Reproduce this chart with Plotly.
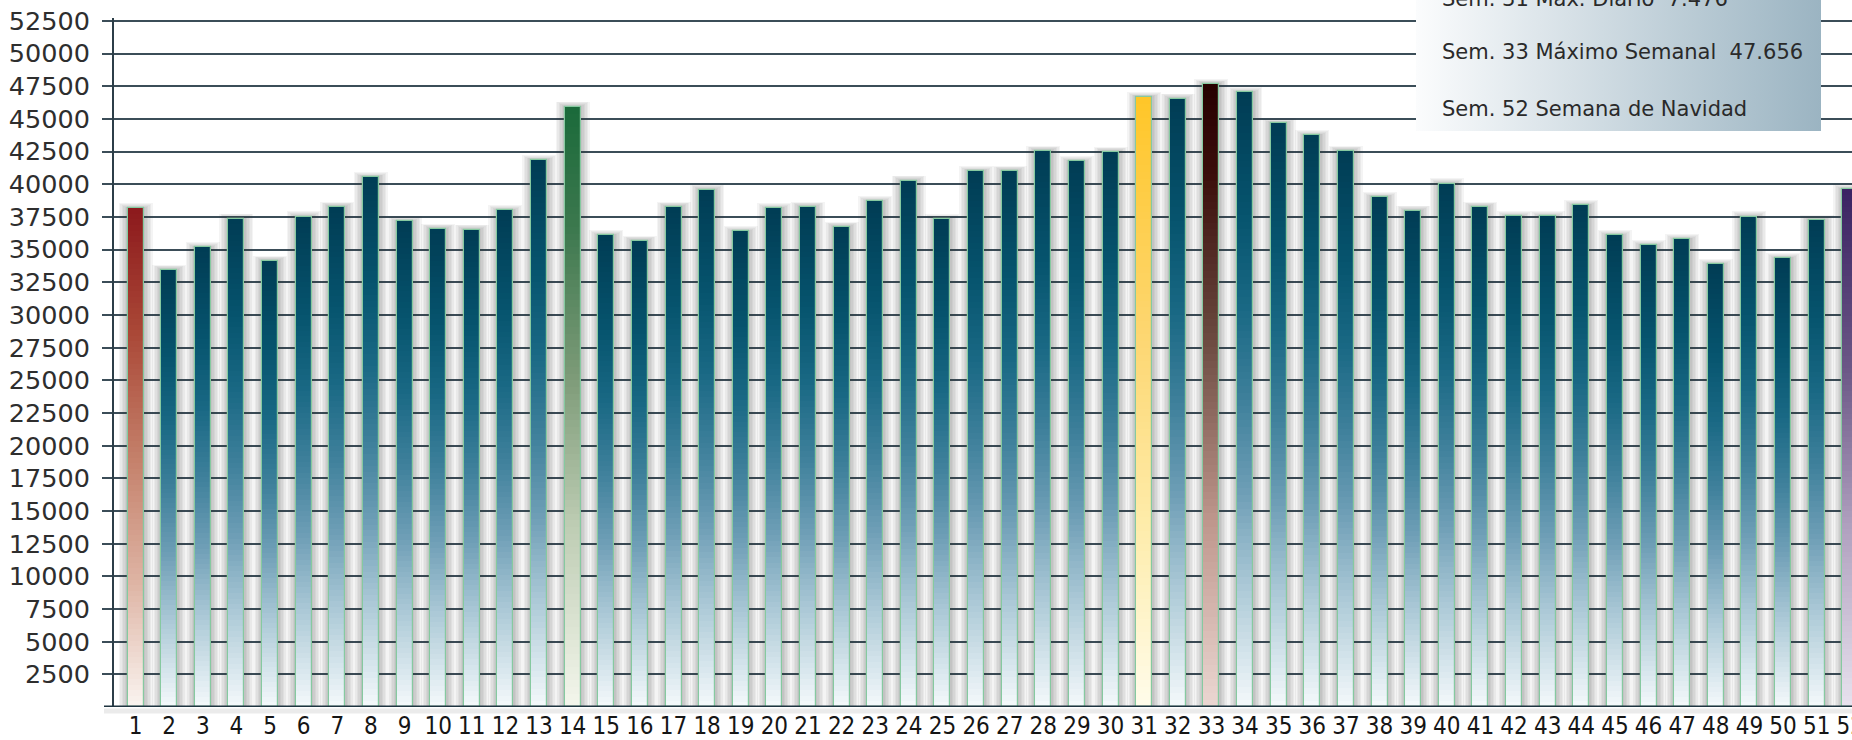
import base64
import numpy as np
import plotly.graph_objects as go

# Weekly totals, weeks 1..52
weeks = list(range(1, 53))
visitors = [38150, 33430, 35170, 37340, 34120, 37520, 38250, 40530, 37160, 36570,
            36500, 38000, 41830, 45910, 36090, 35650, 38250, 39560, 36390, 38150,
            38250, 36720, 38690, 40250, 37310, 40990, 41010, 42540, 41750, 42460,
            46650, 46520, 47656, 47030, 44660, 43740, 42540, 39000, 37950, 40040,
            38250, 37540, 37540, 38380, 36090, 35320, 35780, 33870, 37520, 34330,
            37240, 39610]

# Weeks drawn with their own colour ramp
highlight = {1: "red", 14: "green", 31: "yellow", 33: "brown", 52: "purple"}

# Notes shown in the panel at the top right
notes = ["Sem. 31 Max. Diario\u00a0\u00a07.476",
         "Sem. 33 M\u00e1ximo Semanal\u00a0\u00a047.656",
         "Sem. 52 Semana de Navidad"]

y_ticks = list(range(2500, 52501, 2500))

# Vertical colour ramps (0 = bar base, 1 = bar top)
ramps = {
    "teal": [(0.0, (244, 249, 251)), (0.2, (170, 200, 214)), (0.35, (110, 158, 182)),
             (0.5, (62, 128, 155)), (0.65, (25, 104, 132)), (0.8, (6, 84, 110)),
             (1.0, (0, 60, 84))],
    "red": [(0.0, (250, 244, 240)), (0.25, (222, 180, 164)), (0.5, (196, 128, 106)),
            (0.75, (170, 72, 55)), (1.0, (140, 25, 28))],
    "green": [(0.0, (244, 246, 236)), (0.3, (190, 205, 180)), (0.55, (125, 155, 120)),
              (0.8, (60, 120, 78)), (1.0, (26, 106, 58))],
    "yellow": [(0.0, (255, 252, 235)), (0.3, (254, 236, 170)), (0.6, (253, 215, 115)),
               (1.0, (255, 198, 40))],
    "brown": [(0.0, (235, 215, 210)), (0.3, (190, 150, 140)), (0.6, (105, 72, 62)),
              (0.85, (60, 15, 12)), (1.0, (38, 0, 0))],
    "purple": [(0.0, (232, 226, 238)), (0.35, (175, 160, 190)), (0.65, (108, 88, 135)),
               (1.0, (58, 34, 98))],
}


def ramp_color(name, t):
    stops = ramps[name]
    ts = [s[0] for s in stops]
    rgb = [int(round(np.interp(t, ts, [s[1][c] for s in stops]))) for c in range(3)]
    return "rgb(%d,%d,%d)" % tuple(rgb)


# Layout geometry
W, H = 1852, 740
ML, MR, MT, MB = 114, 0, 18, 33
X_RANGE = [0.36, 52.05]
Y_MAX = 52716
plot_w = W - ML - MR
plot_h = H - MT - MB
px_per_cat = plot_w / (X_RANGE[1] - X_RANGE[0])
px_per_unit = plot_h / Y_MAX
BAR_W = 16 / px_per_cat

fig = go.Figure()

# Soft shadow around each bar
for j in range(1, 7):
    d = 1.5 * j
    fig.add_trace(go.Bar(
        x=weeks, y=[v + 0.6 * d / px_per_unit for v in visitors],
        width=BAR_W + 2 * d / px_per_cat,
        marker=dict(color="rgba(60,60,60,0.055)", line=dict(width=0)),
        hoverinfo="skip", showlegend=False))

# Bars built from thin stacked slices so each one carries a vertical gradient
N = 90
names = [highlight.get(w, "teal") for w in weeks]
for k in range(N):
    top = min(k + 1.6, N)
    fig.add_trace(go.Bar(
        x=weeks,
        base=[v * k / N for v in visitors],
        y=[v * (top - k) / N for v in visitors],
        width=BAR_W,
        marker=dict(color=[ramp_color(n, (k + 0.5) / N) for n in names], line=dict(width=0)),
        hoverinfo="skip", showlegend=False))

# Thin outline on every bar
fig.add_trace(go.Bar(
    x=weeks, y=visitors, width=BAR_W,
    marker=dict(color="rgba(0,0,0,0)", line=dict(color="#86c9a0", width=1.2)),
    hovertemplate="Semana %{x}: %{y}<extra></extra>", showlegend=False))

# Gradient panel for the notes
svg = ('<svg xmlns="http://www.w3.org/2000/svg" width="400" height="130" viewBox="0 0 400 130" '
       'preserveAspectRatio="none"><defs><linearGradient id="g" x1="0" y1="0" x2="1" y2="0">'
       '<stop offset="0" stop-color="#fbfcfd"/><stop offset="1" stop-color="#9bb4c2"/>'
       '</linearGradient></defs><rect width="400" height="130" fill="url(#g)"/></svg>')
panel_src = "data:image/svg+xml;base64," + base64.b64encode(svg.encode()).decode()


def px_x(px):
    return (px - ML) / plot_w


def px_y(py):
    return (H - MB - py) / plot_h


fig.add_layout_image(dict(
    source=panel_src, xref="paper", yref="paper",
    x=px_x(1416), y=px_y(0), sizex=(1821 - 1416) / plot_w, sizey=131 / plot_h,
    xanchor="left", yanchor="top", sizing="stretch", layer="above"))

for i, (txt, cy) in enumerate(zip(notes, [-1, 52, 109])):
    fig.add_annotation(
        text=txt, xref="paper", yref="paper", x=px_x(1440), y=px_y(cy),
        xanchor="left", yanchor="middle", showarrow=False,
        font=dict(family="DejaVu Sans", size=21, color="#2a2a2a"))

# Base line extending slightly left of the value axis, with a faint shadow under it
fig.add_shape(type="line", xref="paper", yref="paper", x0=px_x(104), x1=1.0,
              y0=px_y(711), y1=px_y(711), line=dict(color="rgba(0,0,0,0.08)", width=5),
              layer="above")
fig.add_shape(type="line", xref="paper", yref="y", x0=px_x(104), x1=1.0, y0=0, y1=0,
              line=dict(color="#1f3440", width=3), layer="above")

fig.update_layout(
    width=W, height=H,
    margin=dict(l=ML, r=MR, t=MT, b=MB, pad=0, autoexpand=False),
    barmode="overlay", bargap=0,
    plot_bgcolor="white", paper_bgcolor="white",
    showlegend=False,
    xaxis=dict(range=X_RANGE, tickvals=weeks, ticktext=[str(w) for w in weeks],
               showgrid=False, zeroline=False, showline=False, ticks="",
               automargin=False, ticklabeloverflow="allow", ticklabelstandoff=2,
               tickfont=dict(family="Liberation Sans Narrow, DejaVu Sans Condensed, sans-serif",
                             size=24, color="#151515")),
    yaxis=dict(range=[0, Y_MAX], tickvals=y_ticks, ticktext=[str(v) for v in y_ticks],
               showgrid=True, gridcolor="#3b4d58", gridwidth=1.5, zeroline=False,
               showline=True, linecolor="#2c3e48", linewidth=2,
               ticks="outside", ticklen=10, tickcolor="#3b4d58", tickwidth=1.5,
               automargin=False, ticklabelstandoff=7, ticklabeloverflow="allow",
               tickfont=dict(family="DejaVu Sans", size=25.5, color="#2e2e2e")),
)

fig.write_html("out.html")
